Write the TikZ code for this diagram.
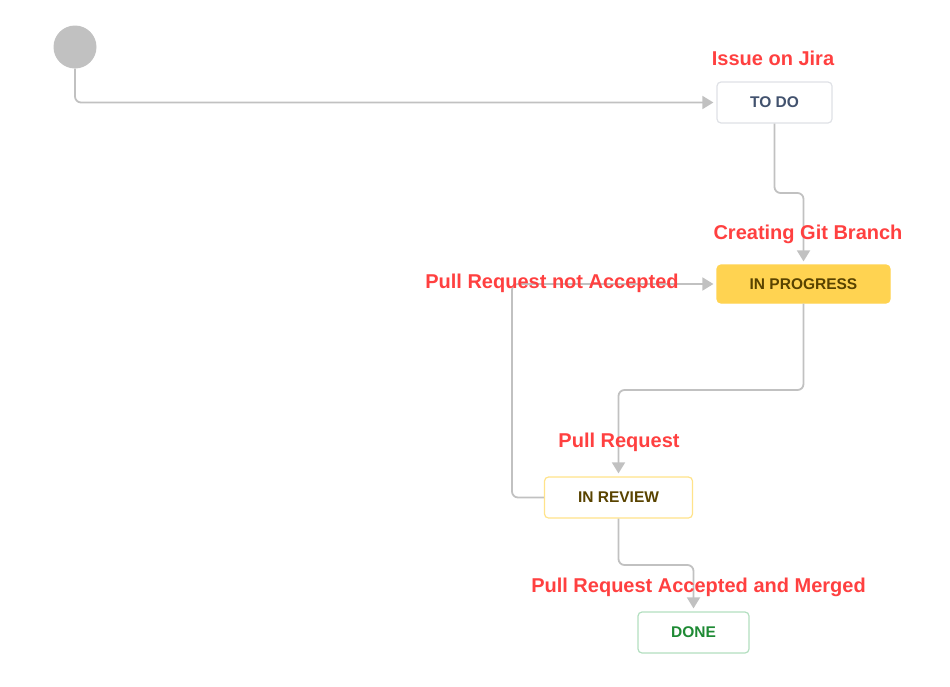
\documentclass[tikz,border=0pt]{standalone}
\usepackage{fontspec}
\setmainfont{Liberation Sans}
\usetikzlibrary{arrows.meta}
\definecolor{conncol}{HTML}{C1C1C1}
\definecolor{startgray}{HTML}{C1C1C1}
\definecolor{lblred}{HTML}{FF4040}
\definecolor{todoborder}{HTML}{DFE1E6}
\definecolor{todotext}{HTML}{42526E}
\definecolor{progfill}{HTML}{FFD351}
\definecolor{progtext}{HTML}{594300}
\definecolor{reviewborder}{HTML}{FFE38A}
\definecolor{doneborder}{HTML}{B3DFC0}
\definecolor{donetext}{HTML}{1E8A34}
\begin{document}
\begin{tikzpicture}[x=1pt,y=-1pt,
  conn/.style={draw=conncol,line width=1.8pt,rounded corners=6pt,shorten >=3pt,-{Triangle[length=11pt,width=13pt]}},
  status/.style={rectangle,rounded corners=4pt,line width=1.2pt,inner sep=0pt,font=\bfseries\fontsize{15.5}{17}\selectfont},
  lbl/.style={text=lblred,inner sep=0pt,font=\bfseries\fontsize{20}{23}\selectfont}]
\useasboundingbox (0,0) rectangle (950,686);
% nodes
\node[circle,fill=startgray,minimum size=43pt,inner sep=0pt] (start) at (75,47) {};
\node[status,draw=todoborder,fill=white,text=todotext,minimum width=115pt,minimum height=41pt] (todo) at (774.5,102.5) {TO DO};
\node[status,draw=progfill,fill=progfill,text=progtext,minimum width=173pt,minimum height=38pt] (prog) at (803.5,284) {IN PROGRESS};
\node[status,draw=reviewborder,fill=white,text=progtext,minimum width=148pt,minimum height=41pt] (review) at (618.5,497.5) {IN REVIEW};
\node[status,draw=doneborder,fill=white,text=donetext,minimum width=111pt,minimum height=41pt] (done) at (693.5,632.5) {DONE};
% connectors
\draw[conn] (start.south) |- (todo.west);
\draw[conn] (todo.south) |- (prog.north |- 0,193) -- (prog.north);
\draw[conn] (prog.south) |- (review.north |- 0,390) -- (review.north);
\draw[conn] (review.south) |- (done.north |- 0,565) -- (done.north);
\draw[conn] (review.west) -- (512,497.5) |- (prog.west);
% labels
\node[lbl] (l1) at (773,58) {Issue on Jira};
\node[lbl] (l2) at (808,234) {Creating Git Branch};
\node[lbl] (l3) at (552,283) {Pull Request not Accepted};
\node[lbl] (l4) at (619,442) {Pull Request};
\node[lbl] (l5) at (698.5,587) {Pull Request Accepted and Merged};
\end{tikzpicture}
\end{document}
